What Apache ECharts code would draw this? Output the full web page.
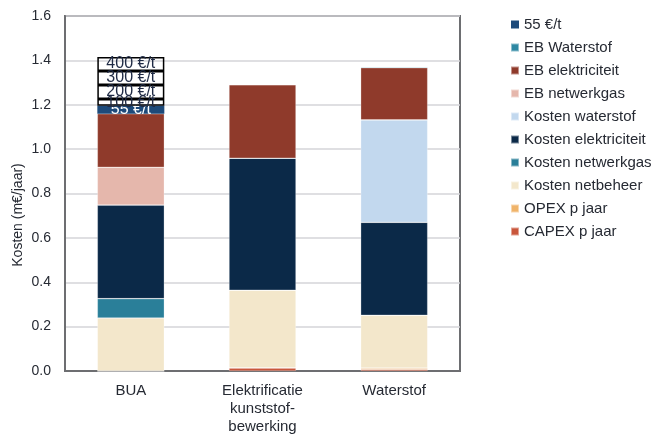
<!DOCTYPE html>
<html>
<head>
<meta charset="utf-8">
<script src="https://cdn.jsdelivr.net/npm/echarts@6/dist/echarts.min.js"></script>
<style>
  html, body { margin: 0; padding: 0; background: #ffffff; }
  #chart { width: 653px; height: 436px; }
</style>
</head>
<body>
<div id="chart"></div>
<script>
// Scenarios on the x axis
const categories = ['BUA', 'Elektrificatie\nkunststof-\nbewerking', 'Waterstof'];

// Cost components (m€/jaar), one value per scenario, bottom to top of each stack
const capex           = [0,     0.014, 0.007];
const opex            = [0,     0,     0.006];
const kostenNetbeheer = [0.239, 0.350, 0.238];
const kostenNetwerkgas= [0.087, 0,     0];
const kostenElektr    = [0.422, 0.595, 0.419];
const kostenWaterstof = [0,     0,     0.462];
const ebNetwerkgas    = [0.170, 0,     0];
const ebElektriciteit = [0.242, 0.331, 0.235];
const ebWaterstof     = [0,     0,     0.003];

// CO2 cost steps on top of BUA (increment per price level)
const co2_55  = [0.036, '-', '-'];
const co2_100 = [0.030, '-', '-'];
const co2_200 = [0.063, '-', '-'];
const co2_300 = [0.063, '-', '-'];
const co2_400 = [0.063, '-', '-'];

const yTicks = { min: 0, max: 1.6, interval: 0.2 };

const FONT = '"Liberation Sans", Arial, sans-serif';
const TEXT = '#262a33';

const colors = {
  'CAPEX p jaar': '#c9563b',
  'OPEX p jaar': '#f0b46a',
  'Kosten netbeheer': '#f3e7cb',
  'Kosten netwerkgas': '#2a7f99',
  'Kosten elektriciteit': '#0b2948',
  'Kosten waterstof': '#c2d8ee',
  'EB netwerkgas': '#e5b7ac',
  'EB elektriciteit': '#8f3a2b',
  'EB Waterstof': '#2e88a3',
  '55 €/t': '#1d4a7a'
};

const costSeries = [
  ['CAPEX p jaar', capex],
  ['OPEX p jaar', opex],
  ['Kosten netbeheer', kostenNetbeheer],
  ['Kosten netwerkgas', kostenNetwerkgas],
  ['Kosten elektriciteit', kostenElektr],
  ['Kosten waterstof', kostenWaterstof],
  ['EB netwerkgas', ebNetwerkgas],
  ['EB elektriciteit', ebElektriciteit],
  ['EB Waterstof', ebWaterstof]
];

const series = costSeries.map(([name, data]) => ({
  name, type: 'bar', stack: 'total', data, barWidth: 67,
  itemStyle: { color: colors[name], borderColor: 'rgba(255,255,255,0.45)', borderWidth: 0.6 },
  emphasis: { disabled: true }
}));

series.push({
  name: '55 €/t', type: 'bar', stack: 'total', data: co2_55, barWidth: 67,
  itemStyle: { color: colors['55 €/t'] },
  label: { show: true, position: 'inside', formatter: '{a}', color: '#ffffff',
           fontFamily: FONT, fontSize: 16 },
  emphasis: { disabled: true }
});

[['100 €/t', co2_100], ['200 €/t', co2_200], ['300 €/t', co2_300], ['400 €/t', co2_400]]
  .forEach(([name, data]) => series.push({
    name, type: 'bar', stack: 'total', data, barWidth: 67, z: 3,
    itemStyle: { color: 'rgba(255,255,255,0)', borderColor: '#000000', borderWidth: 1.5 },
    label: { show: true, position: 'inside', formatter: '{a}', color: '#1f2a44',
             fontFamily: FONT, fontSize: 16 },
    emphasis: { disabled: true }
  }));

const legendOrder = ['55 €/t', 'EB Waterstof', 'EB elektriciteit', 'EB netwerkgas',
  'Kosten waterstof', 'Kosten elektriciteit', 'Kosten netwerkgas', 'Kosten netbeheer',
  'OPEX p jaar', 'CAPEX p jaar'];

const chart = echarts.init(document.getElementById('chart'), null, { renderer: 'canvas' });
chart.setOption({
  animation: false,
  grid: { left: 65, right: 193, top: 16, bottom: 65, show: true, outerBoundsMode: 'none',
          containLabel: false,
          borderColor: '#6d6e71', borderWidth: 2, backgroundColor: 'transparent' },
  legend: {
    orient: 'vertical', left: 505, top: 11,
    data: legendOrder, icon: 'rect', itemWidth: 8, itemHeight: 8, itemGap: 6,
    textStyle: { fontFamily: FONT, fontSize: 15, color: TEXT, lineHeight: 17 },
    selectedMode: false
  },
  xAxis: {
    type: 'category', data: categories,
    axisLine: { show: true, lineStyle: { color: '#6d6e71', width: 2 } },
    axisTick: { show: false },
    axisLabel: { fontFamily: FONT, fontSize: 15, color: TEXT, lineHeight: 18, margin: 11 }
  },
  yAxis: {
    type: 'value', min: yTicks.min, max: yTicks.max, interval: yTicks.interval,
    axisLine: { show: true, lineStyle: { color: '#6d6e71', width: 2 } },
    axisTick: { show: false },
    splitLine: { lineStyle: { color: '#d4d5d8', width: 1.5 } },
    axisLabel: { fontFamily: FONT, fontSize: 14, color: TEXT, margin: 14,
                 formatter: v => v.toFixed(1) }
  },
  graphic: [{
    type: 'text', x: 18, y: 215, rotation: Math.PI / 2,
    style: { text: 'Kosten (m€/jaar)', fontFamily: FONT, fontSize: 14, fill: TEXT,
             align: 'center', verticalAlign: 'middle' }
  }],
  series
});
</script>
</body>
</html>
